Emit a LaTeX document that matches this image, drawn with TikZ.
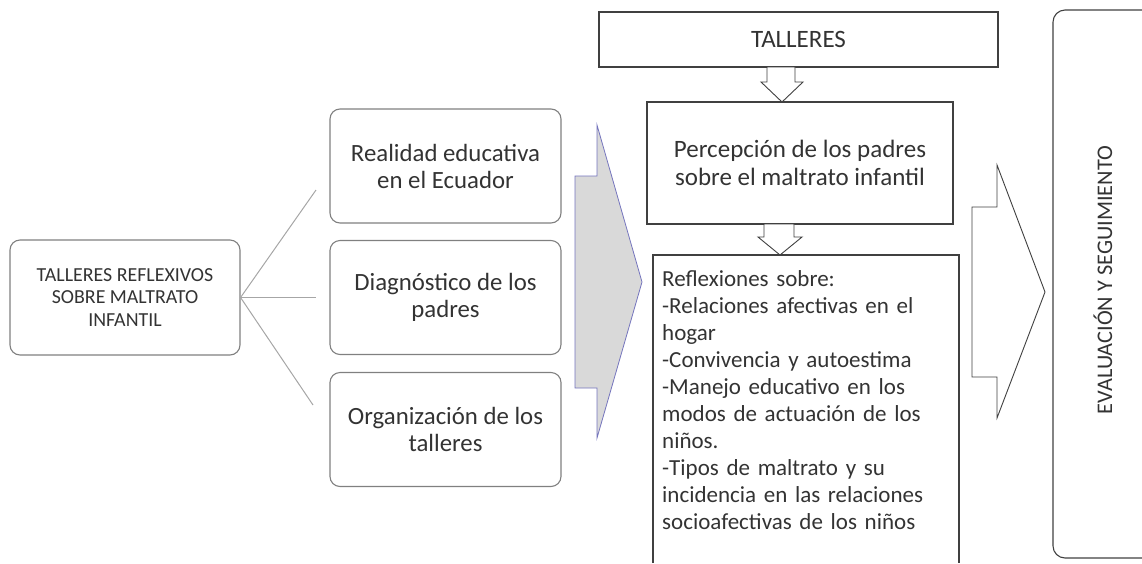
\documentclass[tikz,border=0pt]{standalone}
\usepackage{fontspec}
\setmainfont{Carlito}
\usetikzlibrary{positioning}

\begin{document}
\begin{tikzpicture}[x=1pt,y=-1pt,
	rbox/.style={draw=black!50,line width=1.1pt,rounded corners=10pt,align=center,text=black!80,
		minimum width=231pt,minimum height=114pt,font=\fontsize{24.8}{27}\selectfont},
	sbox/.style={draw=black!75,line width=1.1pt,align=center,text=black!80,font=\fontsize{25}{28}\selectfont},
	frame/.style={draw=black!75,line width=1.1pt},
	link/.style={draw=black!35,line width=1pt},
	blk/.style={draw=black!75,line width=0.9pt,fill=white}]
	\useasboundingbox (0,0) rectangle (1142,563);

	% left part
	\node[rbox,minimum width=230pt,minimum height=115pt,font=\fontsize{19.9}{22.5}\selectfont] (root) at (125,297.5)
		{TALLERES REFLEXIVOS\\SOBRE MALTRATO\\INFANTIL};
	\node[rbox] (real) at (445.5,166) {Realidad educativa\\en el Ecuador};
	\node[rbox] (diag) at (445.5,297.5) {Diagnóstico de los\\padres};
	\node[rbox] (org) at (445.5,429.5) {Organización de los\\talleres};
	\coordinate (e1) at (316,190);
	\coordinate (e2) at (316,297.5);
	\coordinate (e3) at (313,405);
	\draw[link] (root.east) -- (e1);
	\draw[link] (root.east) -- (e2);
	\draw[link] (root.east) -- (e3);

	\draw[fill=black!15,draw=blue!35!gray!80,line width=0.8pt]
		(575,176) -- (597,176) -- (597,125) -- (642,282) -- (597,438) -- (597,388) -- (575,388) -- cycle;

	% talleres
	\node[sbox,minimum width=399pt,minimum height=55pt] (tall) at (798.5,39.5) {TALLERES};
	\node[sbox,minimum width=306pt,minimum height=122pt] (perc) at (800,163)
		{Percepción de los padres\\sobre el maltrato infantil};
	\draw[blk] (767,67) -- (795,67) -- (795,82) -- (803,82) -- (782,102) -- (761,82) -- (767,82) -- cycle;
	\draw[blk] (764,224) -- (794,224) -- (794,237) -- (802,237) -- (780,255) -- (758,237) -- (764,237) -- cycle;

	\draw[frame] (653,563) |- (959,255) -- (959,563);
	\node[anchor=north west,align=left,text width=295pt,inner sep=0pt,text=black!80,
		font=\fontsize{23}{27}\selectfont] (refl) at (662,270)
		{Reflexiones sobre:\\
		-Relaciones afectivas en el\\
		hogar\\
		-Convivencia y autoestima\\
		-Manejo educativo en los\\
		modos de actuación de los\\
		niños.\\
		-Tipos de maltrato y su\\
		incidencia en las relaciones\\
		socioafectivas de los niños};

	% evaluacion
	\draw[blk] (972,207) -- (997,207) -- (997,165) -- (1045,292) -- (997,418) -- (997,377) -- (972,377) -- cycle;
	\draw[frame,rounded corners=12pt] (1142,10) -| (1053,558) -- (1142,558);
	\node[rotate=90,text=black!80,font=\fontsize{22.3}{26}\selectfont] (eval) at (1103,280) {EVALUACIÓN Y SEGUIMIENTO};
\end{tikzpicture}
\end{document}
